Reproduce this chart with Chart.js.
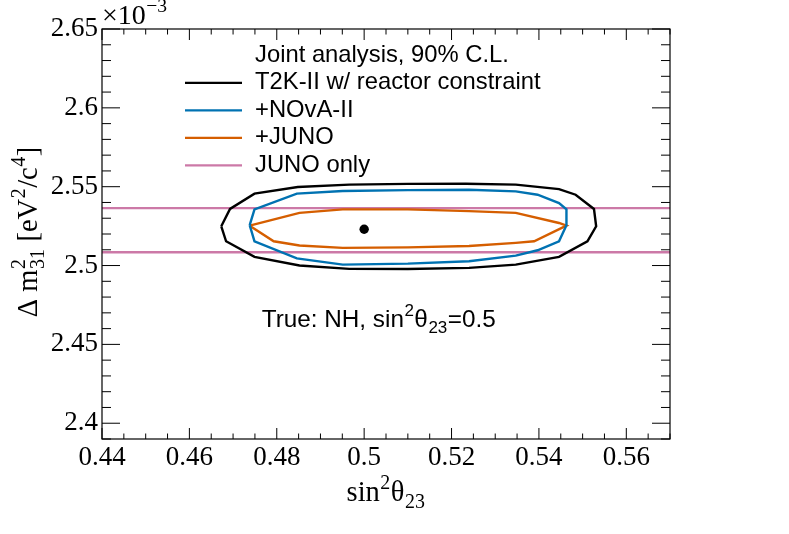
<!DOCTYPE html>
<html><head><meta charset="utf-8">
<script src="https://cdn.jsdelivr.net/npm/chart.js@4.4.1/dist/chart.umd.min.js"></script>
<style>html,body{margin:0;padding:0;background:#fff;} canvas{display:block;}</style>
</head><body>
<canvas id="c" width="789" height="534" style="width:789px;height:534px"></canvas>
<script>
// ---- axis ranges and tick labels ----
const xRange = [0.44, 0.57];
const yRange = [2.39, 2.65];
const xTickValues = [0.44, 0.46, 0.48, 0.50, 0.52, 0.54, 0.56];
const xTickLabels = ['0.44', '0.46', '0.48', '0.5', '0.52', '0.54', '0.56'];
const yTickValues = [2.40, 2.45, 2.50, 2.55, 2.60, 2.65];
const yTickLabels = ['2.4', '2.45', '2.5', '2.55', '2.6', '2.65'];

// ---- contours (sin^2 theta23, dm2_31 in 1e-3 eV^2) ----
const t2kX = [0.4673,0.4693,0.4749,0.4848,0.4966,0.5100,0.5233,0.5347,0.5446,0.5484,0.5526,0.5531,0.5511,0.5446,0.5347,0.5240,0.5100,0.4966,0.4852,0.4749,0.4684,0.4673];
const t2kY = [2.5249,2.5359,2.5456,2.5498,2.5513,2.5518,2.5519,2.5513,2.5485,2.5449,2.5359,2.5249,2.5154,2.5055,2.5006,2.4985,2.4978,2.4979,2.5000,2.5055,2.5154,2.5249];

const novaX = [0.4738,0.4749,0.4846,0.4951,0.5100,0.5240,0.5347,0.5397,0.5446,0.5463,0.5463,0.5446,0.5397,0.5347,0.5240,0.5100,0.4951,0.4846,0.4749,0.4738];
const novaY = [2.5256,2.5356,2.5456,2.5473,2.5478,2.5481,2.5470,2.5449,2.5396,2.5356,2.5256,2.5154,2.5097,2.5063,2.5027,2.5012,2.5006,2.5045,2.5154,2.5256];

const junoJointX = [0.4738,0.4852,0.4951,0.5100,0.5240,0.5347,0.5446,0.5463,0.5389,0.5347,0.5240,0.5100,0.4951,0.4852,0.4793,0.4738];
const junoJointY = [2.5253,2.5334,2.5356,2.5356,2.5345,2.5334,2.5270,2.5253,2.5154,2.5144,2.5124,2.5115,2.5112,2.5127,2.5154,2.5253];

const junoOnlyBand = [2.5364, 2.5084];
const bestFit = [0.500, 2.523];

const legendHeader = 'Joint analysis, 90% C.L.';
const legendLabels = ['T2K-II w/ reactor constraint', '+NOvA-II', '+JUNO', 'JUNO only'];
const colors = ['#000000', '#0072b2', '#d55e00', '#cc79a7'];

const zip = (xs, ys) => xs.map((x, i) => ({x: x, y: ys[i]}));

// ---- rich text helper (sup / sub) ----
function segWidth(ctx, s, size, fam) {
  if (s.t !== undefined) { ctx.font = size + 'px ' + fam; return ctx.measureText(s.t).width; }
  ctx.font = (size * 0.7) + 'px ' + fam;
  let w = 0;
  if (s.sup) w = Math.max(w, ctx.measureText(s.sup).width);
  if (s.sub) w = Math.max(w, ctx.measureText(s.sub).width);
  return w + 1;
}
function drawRich(ctx, segs, x, y, size, fam, align) {
  let total = 0;
  segs.forEach(s => total += segWidth(ctx, s, size, fam));
  let cx = align === 'center' ? x - total / 2 : (align === 'right' ? x - total : x);
  ctx.textBaseline = 'alphabetic';
  ctx.textAlign = 'left';
  segs.forEach(s => {
    const w = segWidth(ctx, s, size, fam);
    if (s.t !== undefined) {
      ctx.font = size + 'px ' + fam;
      ctx.fillText(s.t, cx, y);
    } else {
      ctx.font = (size * 0.7) + 'px ' + fam;
      if (s.sup) ctx.fillText(s.sup, cx + 0.5, y - size * 0.42);
      if (s.sub) ctx.fillText(s.sub, cx + 0.5, y + size * 0.24);
    }
    cx += w;
  });
}

const SERIF = '"Liberation Serif", "Times New Roman", serif';
const SANS = '"Liberation Sans", Arial, sans-serif';

const decorPlugin = {
  id: 'decor',
  afterDatasetsDraw(chart) {
    const ctx = chart.ctx, a = chart.chartArea, xs = chart.scales.x, ys = chart.scales.y;
    ctx.save();
    // frame
    ctx.strokeStyle = '#000';
    ctx.lineWidth = 1.2;
    ctx.strokeRect(a.left, a.top, a.right - a.left, a.bottom - a.top);
    // ticks
    ctx.lineWidth = 1;
    ctx.beginPath();
    const nX = Math.round((xRange[1] - xRange[0]) / 0.005);
    for (let i = 0; i <= nX; i++) {
      const v = xRange[0] + i * 0.005;
      const px = xs.getPixelForValue(v);
      const len = (i % 4 === 0) ? 11 : 5.5;
      ctx.moveTo(px, a.bottom); ctx.lineTo(px, a.bottom - len);
      ctx.moveTo(px, a.top); ctx.lineTo(px, a.top + len);
    }
    const nY = Math.round((yRange[1] - yRange[0]) / 0.01);
    for (let i = 0; i <= nY; i++) {
      const v = yRange[0] + i * 0.01;
      const py = ys.getPixelForValue(v);
      const len = (i % 5 === 1) ? 18 : 9;
      ctx.moveTo(a.left, py); ctx.lineTo(a.left + len, py);
      ctx.moveTo(a.right, py); ctx.lineTo(a.right - len, py);
    }
    ctx.stroke();

    ctx.fillStyle = '#000';
    // exponent label
    drawRich(ctx, [{t: '\u00d710'}, {sup: '\u22123'}], a.left, 24, 28, SERIF, 'left');
    // x title
    drawRich(ctx, [{t: 'sin'}, {sup: '2'}, {t: '\u03b8'}, {sub: '23'}], (a.left + a.right) / 2, 501, 28.5, SERIF, 'center');
    // y title
    ctx.save();
    ctx.translate(37, (a.top + a.bottom) / 2 - 2);
    ctx.rotate(-Math.PI / 2);
    drawRich(ctx, [{t: '\u0394 m'}, {sup: '2', sub: '31'}, {t: ' [eV'}, {sup: '2'}, {t: '/c'}, {sup: '4'}, {t: ']'}], 0, 0, 28.5, SERIF, 'center');
    ctx.restore();

    // legend
    const lx0 = 185, lx1 = 242, tx = 255, base0 = 61.7, dy = 27.5, fs = 23.8;
    ctx.font = fs + 'px ' + SANS;
    ctx.textAlign = 'left';
    ctx.textBaseline = 'alphabetic';
    ctx.fillText(legendHeader, tx, base0);
    legendLabels.forEach((lab, k) => {
      const b = base0 + (k + 1) * dy;
      ctx.strokeStyle = colors[k];
      ctx.lineWidth = 2.2;
      ctx.beginPath();
      ctx.moveTo(lx0, b - 6.3); ctx.lineTo(lx1, b - 6.3);
      ctx.stroke();
      ctx.fillStyle = '#000';
      ctx.font = fs + 'px ' + SANS;
      ctx.fillText(lab, tx, b);
    });

    // annotation
    drawRich(ctx, [{t: 'True: NH, sin'}, {sup: '2'}, {t: '\u03b8'}, {sub: '23'}, {t: '=0.5'}], 261.7, 326.7, 24.3, SANS, 'left');
    ctx.restore();
  }
};

const lineDs = (label, data, color) => ({
  label: label, data: data, showLine: true, borderColor: color, backgroundColor: color,
  borderWidth: 2.4, pointRadius: 0, pointHoverRadius: 0, fill: false, tension: 0
});

new Chart(document.getElementById('c'), {
  type: 'scatter',
  data: {
    datasets: [
      {label: 'best fit', data: [{x: bestFit[0], y: bestFit[1]}], showLine: false, pointRadius: 4.7,
       pointBackgroundColor: '#000', pointBorderWidth: 0, borderColor: '#000'},
      lineDs(legendLabels[0], zip(t2kX, t2kY), colors[0]),
      lineDs(legendLabels[1], zip(novaX, novaY), colors[1]),
      lineDs(legendLabels[2], zip(junoJointX, junoJointY), colors[2]),
      lineDs(legendLabels[3], [{x: xRange[0], y: junoOnlyBand[0]}, {x: xRange[1], y: junoOnlyBand[0]}], colors[3]),
      lineDs(legendLabels[3] + ' (lower)', [{x: xRange[0], y: junoOnlyBand[1]}, {x: xRange[1], y: junoOnlyBand[1]}], colors[3])
    ]
  },
  options: {
    responsive: false,
    animation: false,
    layout: {padding: {left: 0, top: 29, right: 119, bottom: 0}},
    plugins: {legend: {display: false}, tooltip: {enabled: false}},
    scales: {
      x: {
        type: 'linear', min: xRange[0], max: xRange[1],
        grid: {display: false, drawTicks: false}, border: {display: false},
        afterBuildTicks: s => { s.ticks = xTickValues.map(v => ({value: v})); },
        afterFit: s => { s.height = 95; },
        ticks: {font: {family: SERIF, size: 27}, color: '#000', padding: 3, maxRotation: 0, autoSkip: false,
                callback: (v, i) => xTickLabels[i]}
      },
      y: {
        type: 'linear', min: yRange[0], max: yRange[1],
        grid: {display: false, drawTicks: false}, border: {display: false},
        afterBuildTicks: s => { s.ticks = yTickValues.map(v => ({value: v})); },
        afterFit: s => { s.width = 102; },
        ticks: {font: {family: SERIF, size: 27}, color: '#000', padding: 4, autoSkip: false,
                callback: (v, i) => yTickLabels[i]}
      }
    }
  },
  plugins: [decorPlugin]
});
</script>
</body></html>
